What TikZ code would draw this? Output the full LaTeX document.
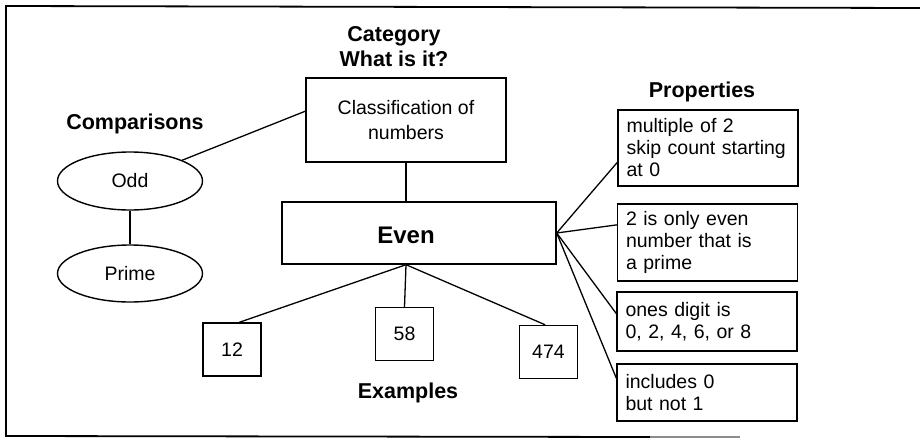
\documentclass[tikz,border=0pt]{standalone}
\usepackage{fontspec}
\setmainfont{Liberation Sans}
\usetikzlibrary{shapes.geometric}

\begin{document}
\begin{tikzpicture}[x=1pt,y=-1pt,
  edge/.style={line width=1.3pt},
  box/.style={draw, line width=1.4pt, inner sep=0pt},
  bodyfont/.style={font=\fontsize{19.5}{22}\selectfont},
  oval/.style={draw, ellipse, line width=1.4pt, minimum width=145pt,
    minimum height=58pt, inner sep=0pt, bodyfont},
  propbox/.style={box, minimum width=180pt, text width=163pt, align=left, bodyfont},
  numbox/.style={box, minimum width=58pt, minimum height=53pt, bodyfont},
  heading/.style={font=\bfseries\fontsize{21.5}{25}\selectfont, align=center, inner sep=0pt},
]
\useasboundingbox (0,0) rectangle (920,442);

% outer frame (open on the right)
\draw[line width=1.8pt] (920,8) -- (6,6) -- (6,436) -- (650,437);
\draw[line width=1.8pt, black!45] (650,437) -- (740,437);

% headings
\node[heading] (hcat) at (394,47) {Category\\What is it?};
\node[heading] (hcmp) at (135,124) {Comparisons};
\node[heading] (hprop) at (702,92) {Properties};
\node[heading] (hex) at (408,393) {Examples};

% category and concept
\node[box, minimum width=200pt, minimum height=84pt, align=center,
      font=\fontsize{19.5}{25}\selectfont] (class) at (406,120)
      {Classification of\\numbers};
\node[box, minimum width=274pt, minimum height=62pt,
      label={[font=\bfseries\fontsize{24}{28}\selectfont, xshift=-13pt, yshift=-2pt]center:Even}]
      (even) at (419,233) {};

% comparisons
\node[oval] (odd) at (130,181) {Odd};
\node[oval, minimum height=57pt] (prime) at (130,273.5) {Prime};

% properties
\node[propbox, minimum height=76pt] (p1) at (708,148)
  {multiple of 2\\skip count starting\\at 0};
\node[propbox, minimum height=77pt] (p2) at (707.5,242.5)
  {2 is only even\\number that is\\a prime};
\node[propbox, minimum height=59pt] (p3) at (707,321.5)
  {ones digit is\\0, 2, 4, 6, or 8};
\node[propbox, minimum height=57pt] (p4) at (707,392.5)
  {includes 0\\but not 1};

% examples
\node[numbox] (n12) at (232,349.5) {12};
\node[numbox] (n58) at (404.5,334) {58};
\node[numbox] (n474) at (548.5,352) {474};

% connectors
\coordinate (evtop) at (class.south |- even.north);
\coordinate (evbot) at (class.south |- even.south);
\draw[edge] (odd) -- (class.175);
\draw[edge] (odd) -- (prime);
\draw[edge] (class.south) -- (evtop);
\draw[edge] (even.east) -- (p1.189);
\draw[edge] (even.east) -- (p2.169);
\draw[edge] (even.east) -- (p3.175);
\draw[edge] (even.east) -- (p4.171);
\draw[edge] (evbot) -- (n12.75);
\draw[edge] (evbot) -- (n58.north);
\draw[edge] (evbot) -- (n474.97);
\end{tikzpicture}
\end{document}
